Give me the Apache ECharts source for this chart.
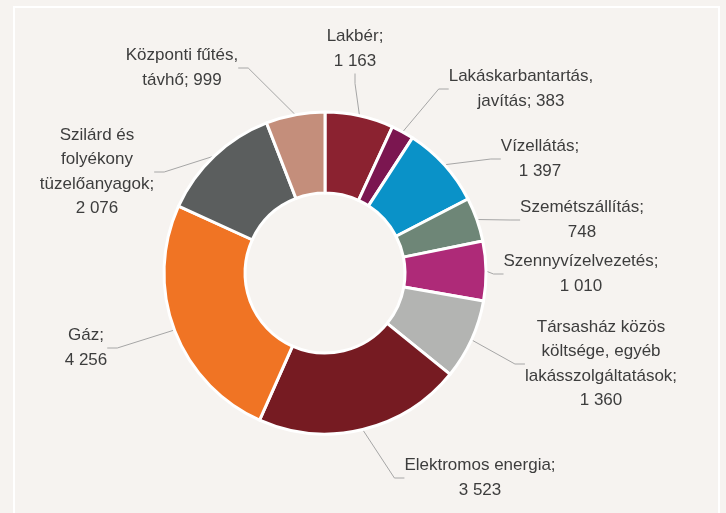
<!DOCTYPE html>
<html>
<head>
<meta charset="utf-8">
<script src="https://cdn.jsdelivr.net/npm/echarts@6/dist/echarts.min.js"></script>
<style>
  html, body { margin: 0; padding: 0; background: #f6f3f0; }
  #chart { width: 726px; height: 513px; }
</style>
</head>
<body>
<div id="chart"></div>
<script>
  // kategóriák (sortörésekkel, ahogy a címkén állnak)
  var categories = [
    'Lakbér',
    'Lakáskarbantartás,\njavítás',
    'Vízellátás',
    'Szemétszállítás',
    'Szennyvízelvezetés',
    'Társasház közös\nköltsége, egyéb\nlakásszolgáltatások',
    'Elektromos energia',
    'Gáz',
    'Szilárd és\nfolyékony\ntüzelőanyagok',
    'Központi fűtés,\ntávhő'
  ];
  var values = [1163, 383, 1397, 748, 1010, 1360, 3523, 4256, 2076, 999];
  // az érték új sorba kerül-e
  var valueNewLine = [true, false, true, true, true, true, true, true, true, false];

  var colors = ['#8b2230', '#7b1650', '#0a92c8', '#6e8677', '#ae2a78',
                '#b3b4b2', '#761b22', '#f07424', '#5b5e5e', '#c48e7b'];
  // címkék közepe (px)
  var labelPos = [
    [355, 49], [521, 89], [540, 159], [582, 220], [581, 274],
    [601, 364], [480, 478], [86, 348], [97, 172], [182, 68]
  ];

  function fmt(v) {
    return String(v).replace(/\B(?=(\d{3})+(?!\d))/g, ' ');
  }

  var chart = echarts.init(document.getElementById('chart'));
  chart.setOption({
    backgroundColor: '#f6f3f0',
    animation: false,
    graphic: [{
      type: 'rect',
      shape: { x: 14, y: 7, width: 705, height: 530 },
      style: { fill: null, stroke: '#ffffff', lineWidth: 2 }
    }],
    series: [{
      type: 'pie',
      center: [325, 273],
      radius: [80, 161],
      startAngle: 90,
      clockwise: true,
      avoidLabelOverlap: false,
      itemStyle: { borderColor: '#ffffff', borderWidth: 3 },
      label: {
        show: true,
        position: 'outside',
        fontFamily: '"Liberation Sans", Arial, sans-serif',
        fontSize: 17,
        lineHeight: 24.5,
        color: '#3d3d3d',
        formatter: function (p) {
          var i = p.dataIndex;
          return categories[i] + ';' + (valueNewLine[i] ? '\n' : ' ') + fmt(values[i]);
        }
      },
      labelLine: {
        show: true,
        length: 20,
        length2: 10,
        lineStyle: { color: '#a6a6a6', width: 1 }
      },
      labelLayout: function (params) {
        var p = labelPos[params.dataIndex];
        return { x: p[0], y: p[1], align: 'center', verticalAlign: 'middle' };
      },
      data: categories.map(function (c, i) {
        return { name: c, value: values[i], itemStyle: { color: colors[i] } };
      })
    }]
  });
</script>
</body>
</html>
